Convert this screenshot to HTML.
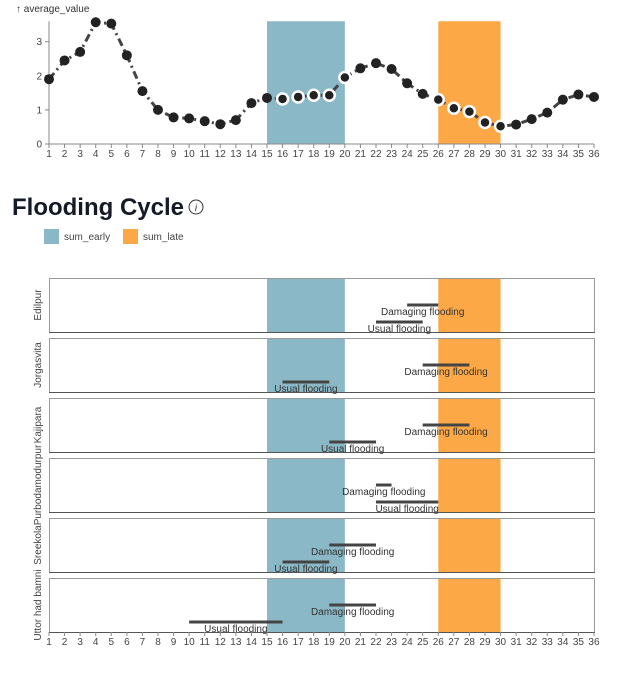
<!DOCTYPE html>
<html><head><meta charset="utf-8"><style>
body{margin:0;background:#fff;font-family:"Liberation Sans",sans-serif}
svg text{font-family:"Liberation Sans",sans-serif}
</style></head><body>
<svg id="c" width="620" height="669"></svg>
<script>
const months=[];for(let i=1;i<=36;i++)months.push(i);
const avgValues=[1.9,2.45,2.7,3.57,3.53,2.6,1.55,1.0,0.78,0.75,0.67,0.58,0.7,1.2,1.35,1.32,1.38,1.43,1.43,1.95,2.22,2.37,2.2,1.78,1.47,1.3,1.05,0.95,0.63,0.52,0.57,0.73,0.92,1.3,1.45,1.38];
const yTicks=[0,1,2,3];
const bands=[{name:"sum_early",start:15,end:20,color:"#8ab8c6"},{name:"sum_late",start:26,end:30,color:"#fca846"}];
const places=["Edilpur","Jorgasvita","Kajipara","Purbodamodurpur","Sreekola","Uttor had bamni"];
const damagingStart=[24,25,25,22,19,19];
const damagingEnd=[26,28,28,23,22,22];
const usualStart=[22,16,19,22,16,10];
const usualEnd=[25,19,22,26,19,16];

const NS="http://www.w3.org/2000/svg",svg=document.getElementById('c');
function el(t,a,p){const e=document.createElementNS(NS,t);for(const k in a)e.setAttribute(k,a[k]);(p||svg).appendChild(e);return e;}
const X=v=>49+(v-1)*15.571;
const Y=v=>144-v*34.1;
// top chart
bands.forEach(b=>{const r=el('rect',{x:X(b.start),y:Y(3.6),width:X(b.end)-X(b.start),height:Y(0)-Y(3.6),fill:b.color});

});
const ya=el('line',{x1:49,x2:49,y1:Y(3.6),y2:Y(0),stroke:'#888'});

yTicks.forEach(t=>{el('line',{x1:45,x2:49,y1:Y(t),y2:Y(t),stroke:'#888'});
const tx=el('text',{x:42,y:Y(t)+3.5,'font-size':10,fill:'#444','text-anchor':'end'});tx.textContent=t;
});
const yt=el('text',{x:16,y:12,'font-size':10,fill:'#333'});yt.textContent='↑ average_value';

const xa=el('line',{x1:49,x2:X(36),y1:Y(0),y2:Y(0),stroke:'#888'});

function xTicks(yy){months.forEach(m=>{el('line',{x1:X(m),x2:X(m),y1:yy,y2:yy+4,stroke:'#888'});
const tx=el('text',{x:X(m),y:yy+13,'font-size':10,fill:'#444','text-anchor':'middle'});tx.textContent=m;
});}
xTicks(Y(0));
const ln=el('path',{d:avgValues.map((v,i)=>(i?'L':'M')+X(months[i])+','+Y(v)).join(''),fill:'none',stroke:'#444','stroke-width':3,'stroke-dasharray':'8,4,2,4'});

avgValues.forEach((v,i)=>{const m=months[i];const ring=(m>15&&m<=20)||(m>=26&&m<=30);
const c=el('circle',{cx:X(m),cy:Y(v),r:ring?5.5:5,fill:'#222',stroke:ring?'#fff':'none','stroke-width':ring?2.5:0});
});
// title
const ti=el('text',{x:12,y:215,'font-size':24,'font-weight':'bold',fill:'#141a26'});ti.textContent='Flooding Cycle';

const ic=el('g',{});
el('circle',{cx:196,cy:207,r:7,fill:'none',stroke:'#333','stroke-width':1},ic);
const it=el('text',{x:196,y:211,'font-size':10,'font-style':'italic','text-anchor':'middle',fill:'#333'},ic);it.textContent='i';
bands.forEach((b,i)=>{const g=el('g',{});
const lx=44+i*79;el('rect',{x:lx,y:229,width:15,height:15,fill:b.color},g);
const t=el('text',{x:lx+20,y:240,'font-size':10,fill:'#444'},g);t.textContent=b.name;});
// facets
places.forEach((p,i)=>{const T=278+i*60,B=T+54;
const g=el('g',{});
el('rect',{x:49.5,y:T+0.5,width:X(36)-49,height:54,fill:'#fff',stroke:'#999'},g);
bands.forEach(b=>el('rect',{x:X(b.start),y:T+1,width:X(b.end)-X(b.start),height:53,fill:b.color},g));
el('line',{x1:49,x2:X(36)+1,y1:B+0.5,y2:B+0.5,stroke:'#555'},g);
const lb=el('text',{transform:`translate(41,${T+27}) rotate(-90)`,'font-size':10,fill:'#444','text-anchor':'middle'},g);lb.textContent=p;
[[damagingStart[i],damagingEnd[i],'Damaging flooding',T+27],[usualStart[i],usualEnd[i],'Usual flooding',T+44]].forEach(r=>{
const l=el('line',{x1:X(r[0]),x2:X(r[1]),y1:r[3],y2:r[3],stroke:'#444','stroke-width':3},g);

const t=el('text',{x:(X(r[0])+X(r[1]))/2,y:r[3]+10,'font-size':10,fill:'#333','text-anchor':'middle'},g);t.textContent=r[2];});
});
xTicks(632);
</script>
</body></html>
